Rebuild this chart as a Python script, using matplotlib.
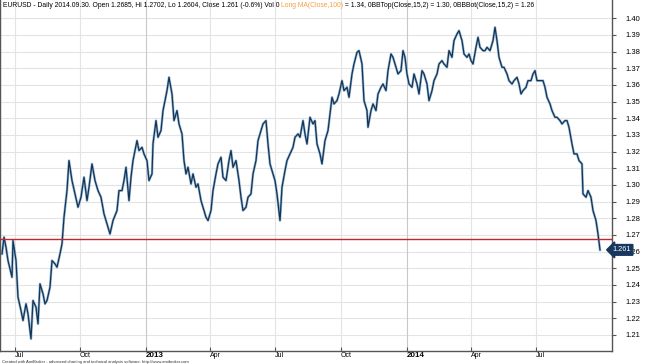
import matplotlib
matplotlib.use('Agg')
import matplotlib.pyplot as plt
import matplotlib.transforms as mtransforms
import pandas as pd

plt.rcParams['font.family'] = ['Liberation Sans', 'DejaVu Sans']

# EURUSD daily closes (bar number from 2012-06-13, close)
day = [0, 2, 4, 6, 10, 11, 14, 16, 19, 21, 24, 26, 29, 31, 34, 36, 38, 41, 43, 45,
       48, 50, 53, 55, 58, 60, 62, 65, 67, 70, 73, 76, 79, 82, 85, 87, 90, 93, 96, 99,
       102, 105, 108, 111, 115, 117, 120, 122, 124, 127, 129, 131, 135, 137, 140, 142, 145, 147, 150, 151,
       154, 156, 159, 161, 165, 167, 170, 172, 175, 177, 180, 182, 184, 186, 189, 191, 194, 196, 199, 201,
       204, 206, 209, 211, 214, 216, 219, 221, 224, 227, 229, 231, 234, 237, 239, 241, 244, 246, 249, 251,
       254, 256, 259, 261, 264, 266, 268, 271, 273, 275, 278, 280, 283, 285, 288, 291, 293, 296, 298, 301,
       303, 305, 308, 311, 313, 315, 318, 320, 323, 326, 330, 332, 335, 337, 340, 342, 345, 347, 350, 352,
       355, 357, 360, 362, 365, 366, 369, 371, 374, 376, 379, 381, 384, 386, 389, 391, 394, 396, 399, 401,
       403, 405, 407, 410, 412, 415, 417, 420, 422, 425, 427, 430, 432, 435, 437, 440, 442, 445, 447, 450,
       452, 455, 457, 460, 462, 465, 467, 469, 471, 474, 476, 478, 481, 483, 485, 488, 491, 493, 495, 497,
       500, 502, 505, 507, 510, 512, 515, 517, 519, 521, 524, 526, 529, 531, 533, 535, 538, 541, 543, 545,
       548, 550, 553, 555, 558, 560, 563, 565, 567, 570, 572, 575, 577, 580, 581, 584, 586, 589, 591, 594,
       596, 598]
close = [1.2586, 1.2686, 1.2626, 1.2546, 1.2446, 1.2666, 1.2546, 1.2326, 1.2246, 1.2186,
         1.2286, 1.2226, 1.2076, 1.2306, 1.2266, 1.2166, 1.2406, 1.2346, 1.2286, 1.2306,
         1.2386, 1.2546, 1.2526, 1.2506, 1.2586, 1.2646, 1.2806, 1.2966, 1.3146, 1.3026,
         1.2946, 1.2866, 1.2926, 1.3046, 1.2906, 1.2986, 1.3126, 1.3026, 1.2966, 1.2926,
         1.2826, 1.2766, 1.2706, 1.2786, 1.2846, 1.2966, 1.2966, 1.3026, 1.3106, 1.2906,
         1.3046, 1.3146, 1.3266, 1.3206, 1.3226, 1.3186, 1.3146, 1.3026, 1.3066, 1.3246,
         1.3386, 1.3286, 1.3326, 1.3446, 1.3566, 1.3646, 1.3546, 1.3386, 1.3446, 1.3366,
         1.3306, 1.3146, 1.3066, 1.3106, 1.3006, 1.3066, 1.2986, 1.3006, 1.2906, 1.2866,
         1.2806, 1.2786, 1.2846, 1.2966, 1.3066, 1.3126, 1.3166, 1.3046, 1.3026, 1.3146,
         1.3206, 1.3106, 1.3146, 1.3026, 1.2926, 1.2846, 1.2866, 1.2926, 1.2946, 1.3066,
         1.3146, 1.3266, 1.3326, 1.3366, 1.3386, 1.3246, 1.3126, 1.3066, 1.3026, 1.2946,
         1.2786, 1.2986, 1.3086, 1.3146, 1.3186, 1.3226, 1.3286, 1.3306, 1.3286, 1.3386,
         1.3306, 1.3246, 1.3406, 1.3366, 1.3386, 1.3246, 1.3186, 1.3126, 1.3266, 1.3326,
         1.3526, 1.3486, 1.3506, 1.3546, 1.3626, 1.3566, 1.3586, 1.3526, 1.3666, 1.3726,
         1.3796, 1.3806, 1.3726, 1.3506, 1.3446, 1.3346, 1.3446, 1.3486, 1.3446, 1.3546,
         1.3586, 1.3606, 1.3566, 1.3686, 1.3786, 1.3766, 1.3706, 1.3666, 1.3686, 1.3806,
         1.3766, 1.3666, 1.3606, 1.3586, 1.3666, 1.3606, 1.3546, 1.3686, 1.3666, 1.3606,
         1.3506, 1.3566, 1.3626, 1.3666, 1.3726, 1.3746, 1.3726, 1.3706, 1.3806, 1.3766,
         1.3866, 1.3906, 1.3926, 1.3866, 1.3786, 1.3766, 1.3786, 1.3746, 1.3726, 1.3826,
         1.3886, 1.3826, 1.3806, 1.3806, 1.3826, 1.3806, 1.3866, 1.3946, 1.3866, 1.3766,
         1.3706, 1.3706, 1.3666, 1.3626, 1.3606, 1.3626, 1.3646, 1.3606, 1.3546, 1.3566,
         1.3586, 1.3626, 1.3626, 1.3666, 1.3686, 1.3626, 1.3626, 1.3626, 1.3586, 1.3526,
         1.3486, 1.3446, 1.3406, 1.3406, 1.3386, 1.3366, 1.3386, 1.3386, 1.3346, 1.3246,
         1.3186, 1.3186, 1.3146, 1.3126, 1.2946, 1.2926, 1.2966, 1.2926, 1.2846, 1.2786,
         1.2706, 1.2610]

last_close = 1.261
level_line = 1.2675

tick_months = ['2012-07-01', '2012-10-01', '2013-01-01', '2013-04-01', '2013-07-01',
               '2013-10-01', '2014-01-01', '2014-04-01', '2014-07-01']
tick_labels = ['Jul', 'Oct', '2013', 'Apr', 'Jul', 'Oct', '2014', 'Apr', 'Jul']
price_ticks = [1.21, 1.22, 1.23, 1.24, 1.25, 1.26, 1.27, 1.28, 1.29, 1.30,
               1.31, 1.32, 1.33, 1.34, 1.35, 1.36, 1.37, 1.38, 1.39, 1.40]

dates = pd.bdate_range('2012-06-13', periods=650)
tick_pos = [int((dates < pd.Timestamp(m)).sum()) for m in tick_months]

fig = plt.figure(figsize=(6.45, 3.64), dpi=100)
ax = fig.add_axes([0.0, 13 / 364, 612 / 645, 351 / 364])

ax.set_xlim(-2, 610)
ax.set_ylim(1.2003, 1.411)

# grid
for p in price_ticks:
    ax.axhline(p, color='#e4e4e4', lw=0.8, zorder=0)
for lab, p in zip(tick_labels, tick_pos):
    c = '#c8c8c8' if lab.isdigit() else '#e4e4e4'
    ax.axvline(p, color=c, lw=0.8, zorder=0)

ax.plot(day, close, color='#9ab8d2', lw=1.8, zorder=2)
ax.plot(day, close, color='#123456', lw=0.9, zorder=3)

ax.axhline(level_line, color='#c0282d', lw=1.0, zorder=4)

# spines / ticks
ax.spines['top'].set_visible(False)
for s in ['left', 'right', 'bottom']:
    ax.spines[s].set_color('#555555')
    ax.spines[s].set_linewidth(1.0)

ax.yaxis.tick_right()
ax.set_yticks(price_ticks)
ax.set_yticklabels(['%.2f' % p for p in price_ticks])
ax.tick_params(axis='y', direction='out', length=3, width=0.8, color='#555555',
               labelsize=5.5, pad=7)

ax.set_xticks(tick_pos)
ax.set_xticklabels(tick_labels)
ax.tick_params(axis='x', direction='in', length=3, width=0.8, color='#555555',
               labelsize=5, pad=0.5)
for t, lab in zip(ax.get_xticklabels(), tick_labels):
    t.set_ha('left')
    if lab.isdigit():
        t.set_fontweight('bold')
        t.set_fontsize(5.8)

# price marker on the right
trans = mtransforms.blended_transform_factory(fig.transFigure, ax.transData)
ax.text(612.5 / 645, last_close, '%.3f' % last_close, transform=trans, color='white',
        fontsize=5.3, va='center', ha='left', zorder=10, clip_on=False,
        bbox=dict(boxstyle='larrow,pad=0.25', fc='#17375e', ec='#17375e'))

# header
fs = 4.9
t1 = ax.text(0.005, 0.993, 'EURUSD - Daily 2014.09.30. Open 1.2685, Hi 1.2702, Lo 1.2604, '
             'Close 1.261 (-0.6%) Vol 0 ', transform=ax.transAxes, fontsize=fs,
             va='top', ha='left', color='black')
fig.canvas.draw()
bb = t1.get_window_extent()
x1 = ax.transAxes.inverted().transform((bb.x1, bb.y1))[0]
t2 = ax.text(x1, 0.993, 'Long MA(Close,100)', transform=ax.transAxes, fontsize=fs,
             va='top', ha='left', color='#f5a040')
bb = t2.get_window_extent()
x2 = ax.transAxes.inverted().transform((bb.x1, bb.y1))[0]
ax.text(x2, 0.993, ' = 1.34, 0BBTop(Close,15,2) = 1.30, 0BBBot(Close,15,2) = 1.26',
        transform=ax.transAxes, fontsize=fs, va='top', ha='left', color='black')

fig.text(0.003, 0.0, 'Created with AmiBroker - advanced charting and technical analysis '
         'software. http://www.amibroker.com', fontsize=3.0, color='#333333',
         va='bottom', ha='left')

fig.savefig('out.png', dpi=100)
